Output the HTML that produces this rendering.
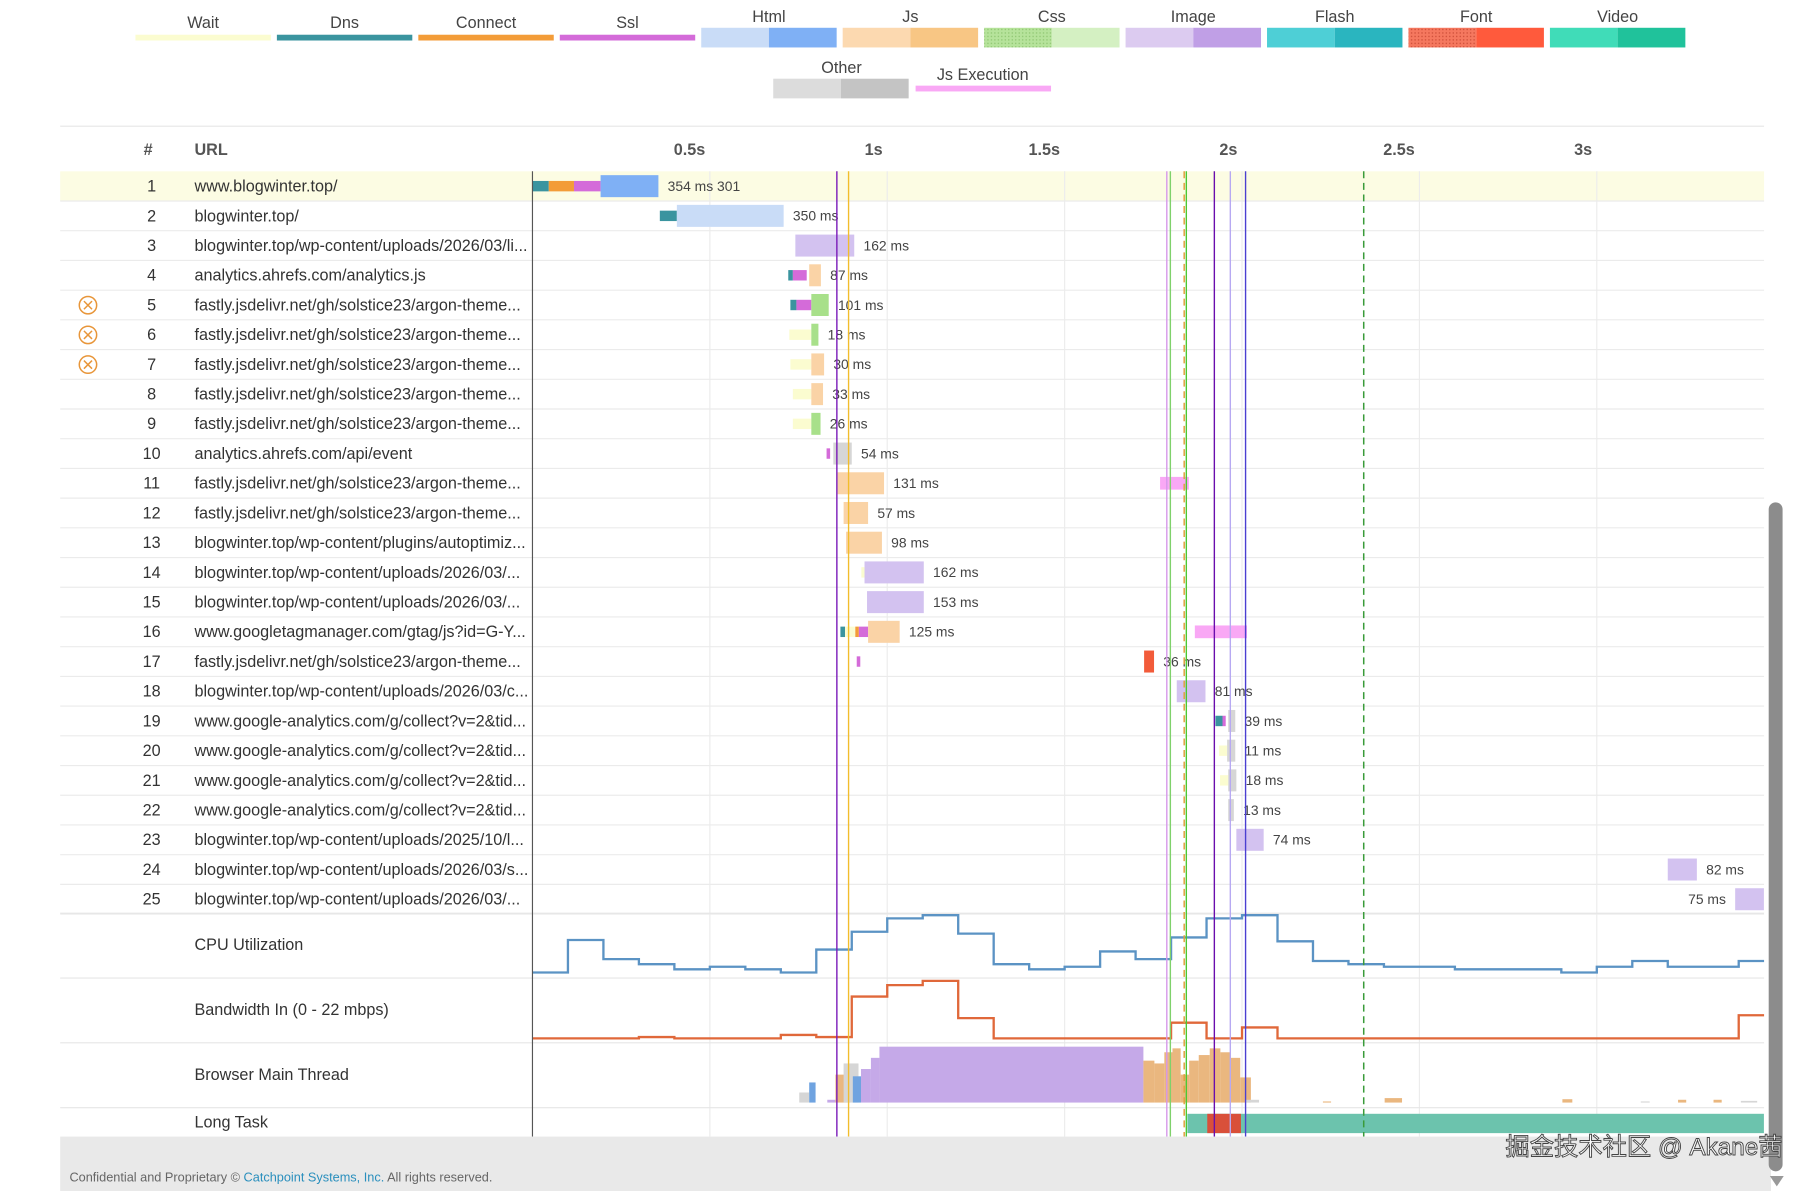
<!DOCTYPE html>
<html><head><meta charset="utf-8">
<style>
html,body{margin:0;padding:0;background:#fff;overflow:hidden}
svg{display:block;font-family:"Liberation Sans","Noto Sans CJK SC",sans-serif}
</style></head>
<body>
<svg id="chart" width="1815" height="1191" viewBox="0 0 1568 1029" preserveAspectRatio="none" xmlns="http://www.w3.org/2000/svg">
<defs>
<pattern id="dots" width="3" height="3" patternUnits="userSpaceOnUse"><rect width="3" height="3" fill="#f5785f"/><circle cx="1.5" cy="1.5" r="0.6" fill="#c94a35"/></pattern>
<pattern id="cdots" width="3" height="3" patternUnits="userSpaceOnUse"><rect width="3" height="3" fill="#b6e39b"/><circle cx="1.5" cy="1.5" r="0.6" fill="#8cc46e"/></pattern>
</defs>
<g id="legend"></g>
<line x1="52" y1="109" x2="1524" y2="109" stroke="#e6e6e6"/>
<rect x="52" y="148" width="1472" height="25.7" fill="#fcfce3"/>
<text x="128" y="134" font-size="14" font-weight="bold" fill="#555" text-anchor="middle">#</text>
<text x="168" y="134" font-size="14" font-weight="bold" fill="#555">URL</text>
<g id="grid"></g>
<g id="rows"></g>
<g id="bars"></g>
<g id="sections"></g>
<g id="markers"></g>
<line x1="460" y1="148" x2="460" y2="982" stroke="#555" stroke-width="1"/>
<rect x="52" y="982" width="1478" height="47" fill="#e9e9e9"/>
<text x="60" y="1021" font-size="11" fill="#666">Confidential and Proprietary © <tspan fill="#2a8fbd">Catchpoint Systems, Inc.</tspan> All rights reserved.</text>
<rect x="1528" y="434" width="12" height="578" rx="6" fill="#8c8c8c"/>
<path d="M1529 1016 L1541 1016 L1535 1025 Z" fill="#999"/>
<text x="1540" y="998" font-size="21" text-anchor="end" fill="#fff" stroke="#444" stroke-width="0.8">掘金技术社区 @ Akane茜</text>
</svg>
<script>
const NS="http://www.w3.org/2000/svg";
const svg=document.getElementById('chart');
function mk(tag,attrs,parent){const e=document.createElementNS(NS,tag);for(const k in attrs)e.setAttribute(k,attrs[k]);(parent||svg).appendChild(e);return e;}

// ---------- data ----------
const tickLabels=["0.5s","1s","1.5s","2s","2.5s","3s"];
const tickTimes=[500,1000,1500,2000,2500,3000];
const urls=["www.blogwinter.top/","blogwinter.top/","blogwinter.top/wp-content/uploads/2026/03/li...","analytics.ahrefs.com/analytics.js","fastly.jsdelivr.net/gh/solstice23/argon-theme...","fastly.jsdelivr.net/gh/solstice23/argon-theme...","fastly.jsdelivr.net/gh/solstice23/argon-theme...","fastly.jsdelivr.net/gh/solstice23/argon-theme...","fastly.jsdelivr.net/gh/solstice23/argon-theme...","analytics.ahrefs.com/api/event","fastly.jsdelivr.net/gh/solstice23/argon-theme...","fastly.jsdelivr.net/gh/solstice23/argon-theme...","blogwinter.top/wp-content/plugins/autoptimiz...","blogwinter.top/wp-content/uploads/2026/03/...","blogwinter.top/wp-content/uploads/2026/03/...","www.googletagmanager.com/gtag/js?id=G-Y...","fastly.jsdelivr.net/gh/solstice23/argon-theme...","blogwinter.top/wp-content/uploads/2026/03/c...","www.google-analytics.com/g/collect?v=2&tid...","www.google-analytics.com/g/collect?v=2&tid...","www.google-analytics.com/g/collect?v=2&tid...","www.google-analytics.com/g/collect?v=2&tid...","blogwinter.top/wp-content/uploads/2025/10/l...","blogwinter.top/wp-content/uploads/2026/03/s...","blogwinter.top/wp-content/uploads/2026/03/..."];
const errorRows=[5,6,7];
const durLabels=["354 ms 301","350 ms","162 ms","87 ms","101 ms","18 ms","30 ms","33 ms","26 ms","54 ms","131 ms","57 ms","98 ms","162 ms","153 ms","125 ms","36 ms","81 ms","39 ms","11 ms","18 ms","13 ms","74 ms","82 ms","75 ms"];
// segments per row: [type, startMs, endMs]
const segments=[
 [["dns",0,46],["connect",46,117],["ssl",117,192],["html",192,355]],
 [["dns",359,407],["htmlL",407,708]],
 [["image",741,907]],
 [["dns",721,734],["ssl",734,773],["js",780,813]],
 [["dns",727,744],["ssl",744,786],["css",786,835]],
 [["wait",724,786],["css",786,806]],
 [["wait",727,786],["js",786,822]],
 [["wait",734,786],["js",786,819]],
 [["wait",734,786],["css",786,812]],
 [["ssl",829,839],["other",848,900]],
 [["js",860,991],["jsexec",1769,1850]],
 [["js",877,946]],
 [["js",884,985]],
 [["wait",927,936],["image",936,1103]],
 [["image",943,1103]],
 [["dns",868,881],["wait",881,910],["connect",910,920],["ssl",920,946],["js",946,1035],["jsexec",1867,2014]],
 [["ssl",914,924],["font",1724,1752]],
 [["image",1816,1897]],
 [["dns",1925,1945],["ssl",1945,1954],["other",1961,1981]],
 [["wait",1935,1958],["other",1958,1981]],
 [["wait",1938,1961],["other",1961,1984]],
 [["other",1961,1977]],
 [["image",1984,2061]],
 [["image",3200,3282]],
 [["image",3390,3471]]
];
const labelLeft=[25];
const cpuValues=[6,57,27,19,11,15,11,6,42,70,91,96,67,19,11,15,39,27,61,91,96,55,24,19,15,15,11,11,11,6,15,24,15,15,24];
const bwValues=[0.2,0.2,0.2,0.7,0.2,0.2,0.2,1.5,0.7,15.9,20.2,21.8,7.8,0.2,0.2,0.2,0.2,0.2,6.1,0.2,4.3,0.2,0.2,0.2,0.2,0.2,0.2,0.2,0.2,0.2,0.2,0.2,0.2,0.2,8.9];
const mtStart=[752,780,831,854,877,903,926,954,978,1722,1753,1781,1804,1827,1851,1878,1909,1939,1967,1995,2009,2228,2402,2903,3124,3229,3329,3406];
const mtEnd=[780,798,854,896,919,926,954,978,1722,1753,1781,1804,1827,1851,1878,1909,1939,1967,1995,2025,2048,2251,2451,2931,3149,3252,3352,3452];
const mtPct=[18,36,5,50,70,47,60,80,100,75,70,90,97,50,75,85,97,90,80,45,5,2,8,6,2,5,5,3];
const mtCat=["other","blue","purple","orange","other","blue","purple","purple","purple","orange","orange","orange","orange","orange","orange","orange","orange","orange","orange","orange","other","orange","orange","orange","other","orange","orange","other"];
const longTaskStart=[1846,1902];
const longTaskEnd=[3471,1997];
const longTaskType=["ok","long"];
const markerTimes=[858,891,1788,1798,1837,1843,1922,1967,2010,2343];
const markerColors=["#7a19b8","#f2bd2c","#d597ea","#7fd16b","#e0a040","#4cc832","#6a0dad","#b7a9f2","#4b3fd1","#3a9b3a"];
const markerDashed=[0,0,0,0,1,0,0,0,0,1];

// ---------- scales ----------
const X0=460, PX_PER_MS=0.3065;
function x(ms){return X0+ms*PX_PER_MS;}
const ROW0=148, RH=25.67;
function rowY(i){return ROW0+i*RH;}
const colors={wait:"#fbfcd0",dns:"#3a949f",connect:"#f39c38",ssl:"#d46bd9",html:"#7fb0f5",htmlL:"#c9dcf7",js:"#fad3a6",css:"#a8e08a",image:"#d3c2f0",other:"#d6d6d6",font:"#f25b3a",jsexec:"#f9a8f5"};
const thin={wait:1,dns:1,connect:1,ssl:1};

// ---------- legend ----------
const lg=document.getElementById('legend');
const legend1=[["Wait","#fbfcd0",null],["Dns","#3a949f",null],["Connect","#f39c38",null],["Ssl","#d46bd9",null],["Html","#c9dcf7","#7fb0f5"],["Js","#fcd9b0","#f8c684"],["Css","url(#cdots)","#d4f0c2"],["Image","#dccbf0","#c09fe6"],["Flash","#4ecfd6","#2ab5bf"],["Font","url(#dots)","#ff5a3c"],["Video","#40dcb8","#20c29b"]];
legend1.forEach((l,i)=>{
 const lx=117+i*122.2;
 const g=mk('g',{},lg);
 
 
 if(l[2]){
  mk('rect',{x:lx,y:24,width:58.5,height:17,fill:l[1]},g);
  mk('rect',{x:lx+58.5,y:24,width:58.5,height:17,fill:l[2]},g);
  const t=mk('text',{x:lx+58.5,y:19,'font-size':14,fill:'#444','text-anchor':'middle'},g);t.textContent=l[0];
 }else{
  mk('rect',{x:lx,y:30,width:117,height:5,fill:l[1]},g);
  const t=mk('text',{x:lx+58.5,y:24,'font-size':14,fill:'#444','text-anchor':'middle'},g);t.textContent=l[0];
 }
});
{const g=mk('g',{},lg);
 
 
 mk('rect',{x:668,y:68,width:58.5,height:17,fill:'#dcdcdc'},g);
 mk('rect',{x:726.5,y:68,width:58.5,height:17,fill:'#c4c4c4'},g);
 const t=mk('text',{x:727,y:63,'font-size':14,fill:'#444','text-anchor':'middle'},g);t.textContent="Other";
 const g2=mk('g',{},lg);
 
 
 mk('rect',{x:791,y:74,width:117,height:5,fill:'#f9a8f5'},g2);
 const t2=mk('text',{x:849,y:69,'font-size':14,fill:'#444','text-anchor':'middle'},g2);t2.textContent="Js Execution";}

// ---------- grid & ticks ----------
const grid=document.getElementById('grid');
tickTimes.forEach((t,i)=>{
 const gl=mk('line',{x1:x(t),y1:148,x2:x(t),y2:982,stroke:'#ececec'},grid);
 
 
 const tt=mk('text',{x:x(t)-4,y:134,'font-size':14,'font-weight':'bold',fill:'#555','text-anchor':'end'},grid);
 tt.textContent=tickLabels[i];
 
 
});

// ---------- rows ----------
const rows=document.getElementById('rows');
urls.forEach((u,i)=>{
 const y=rowY(i);
 mk('line',{x1:52,y1:y+RH,x2:1524,y2:y+RH,stroke:'#ebebeb'},rows);
 const n=mk('text',{x:131,y:y+17.5,'font-size':14,fill:'#333','text-anchor':'middle'},rows);
 n.textContent=String(i+1);
 
 
 const t=mk('text',{x:168,y:y+17.5,'font-size':14,fill:'#333'},rows);
 t.textContent=u;
 
 
 if(errorRows.includes(i+1)){
  const g=mk('g',{},rows);
  
  
  mk('circle',{cx:76,cy:y+13,r:7.5,fill:'none',stroke:'#e8963a','stroke-width':1.3},g);
  mk('path',{d:`M72.5 ${y+9.5} L79.5 ${y+16.5} M79.5 ${y+9.5} L72.5 ${y+16.5}`,stroke:'#e8963a','stroke-width':1.3},g);
 }
});

// ---------- bars ----------
const bars=document.getElementById('bars');
segments.forEach((segs,i)=>{
 const y=rowY(i);
 let maxEnd=0;
 segs.forEach(s=>{
  const [type,a,b]=s;
  const h=thin[type]?9:(type==='jsexec'?11:19);
  const r=mk('rect',{x:x(a),y:y+(RH-h)/2,width:Math.max(1.5,x(b)-x(a)),height:h,fill:colors[type]},bars);
  
  
  if(type!=='jsexec') maxEnd=Math.max(maxEnd,b);
 });
 const lbl=mk('text',{'font-size':12,fill:'#444',y:y+17},bars);
 if(labelLeft.includes(i+1)){lbl.setAttribute('x',x(segs[segs.length-1][1])-8);lbl.setAttribute('text-anchor','end');}
 else lbl.setAttribute('x',x(maxEnd)+8);
 lbl.textContent=durLabels[i];
 
 
});

// ---------- bottom sections ----------
const sec=document.getElementById('sections');
[["CPU Utilization",789],["Bandwidth In (0 - 22 mbps)",845],["Browser Main Thread",901],["Long Task",957]].forEach((s,i)=>{
 mk('line',{x1:52,y1:s[1],x2:1524,y2:s[1],stroke:'#e6e6e6'},sec);
 const t=mk('text',{x:168,y:i===3?s[1]+17:s[1]+32,'font-size':14,fill:'#333'},sec);
 t.textContent=s[0];
 
 
});
function stepPath(vals,yf){
 let d='';
 vals.forEach((v,i)=>{
  const x1=x(i*100), x2=Math.min(x((i+1)*100),1524);
  d+=(i===0?'M':'L')+x1+' '+yf(v)+' L'+x2+' '+yf(v)+' ';
 });
 return d;
}
const cpu=mk('path',{d:stepPath(cpuValues,v=>843.5-v*0.55),fill:'none',stroke:'#5b93c4','stroke-width':2},sec);


const bw=mk('path',{d:stepPath(bwValues,v=>897.6-v*2.3),fill:'none',stroke:'#e0683a','stroke-width':2},sec);


const mtColors={other:"#d6d6d6",blue:"#6fa3e0",purple:"#c5a9e8",orange:"#eab77f"};
mtStart.forEach((s,i)=>{
 const h=mtPct[i]*0.483;
 const r=mk('rect',{x:x(s),y:952.6-h,width:Math.max(1,x(mtEnd[i])-x(s)),height:h,fill:mtColors[mtCat[i]]},sec);
 
 
});
longTaskStart.forEach((s,i)=>{
 const r=mk('rect',{x:x(s),y:962.3,width:x(longTaskEnd[i])-x(s),height:16.7,fill:longTaskType[i]==='long'?'#d9503a':'#6cc3ad'},sec);
 
 
});

// ---------- markers ----------
const mkG=document.getElementById('markers');
markerTimes.forEach((t,i)=>{
 const l=mk('line',{x1:x(t),y1:148,x2:x(t),y2:982,stroke:markerColors[i],'stroke-width':markerDashed[i]?1.3:1.2},mkG);
 if(markerDashed[i]) l.setAttribute('stroke-dasharray','6,4');
 
 
});
</script>
</body></html>
